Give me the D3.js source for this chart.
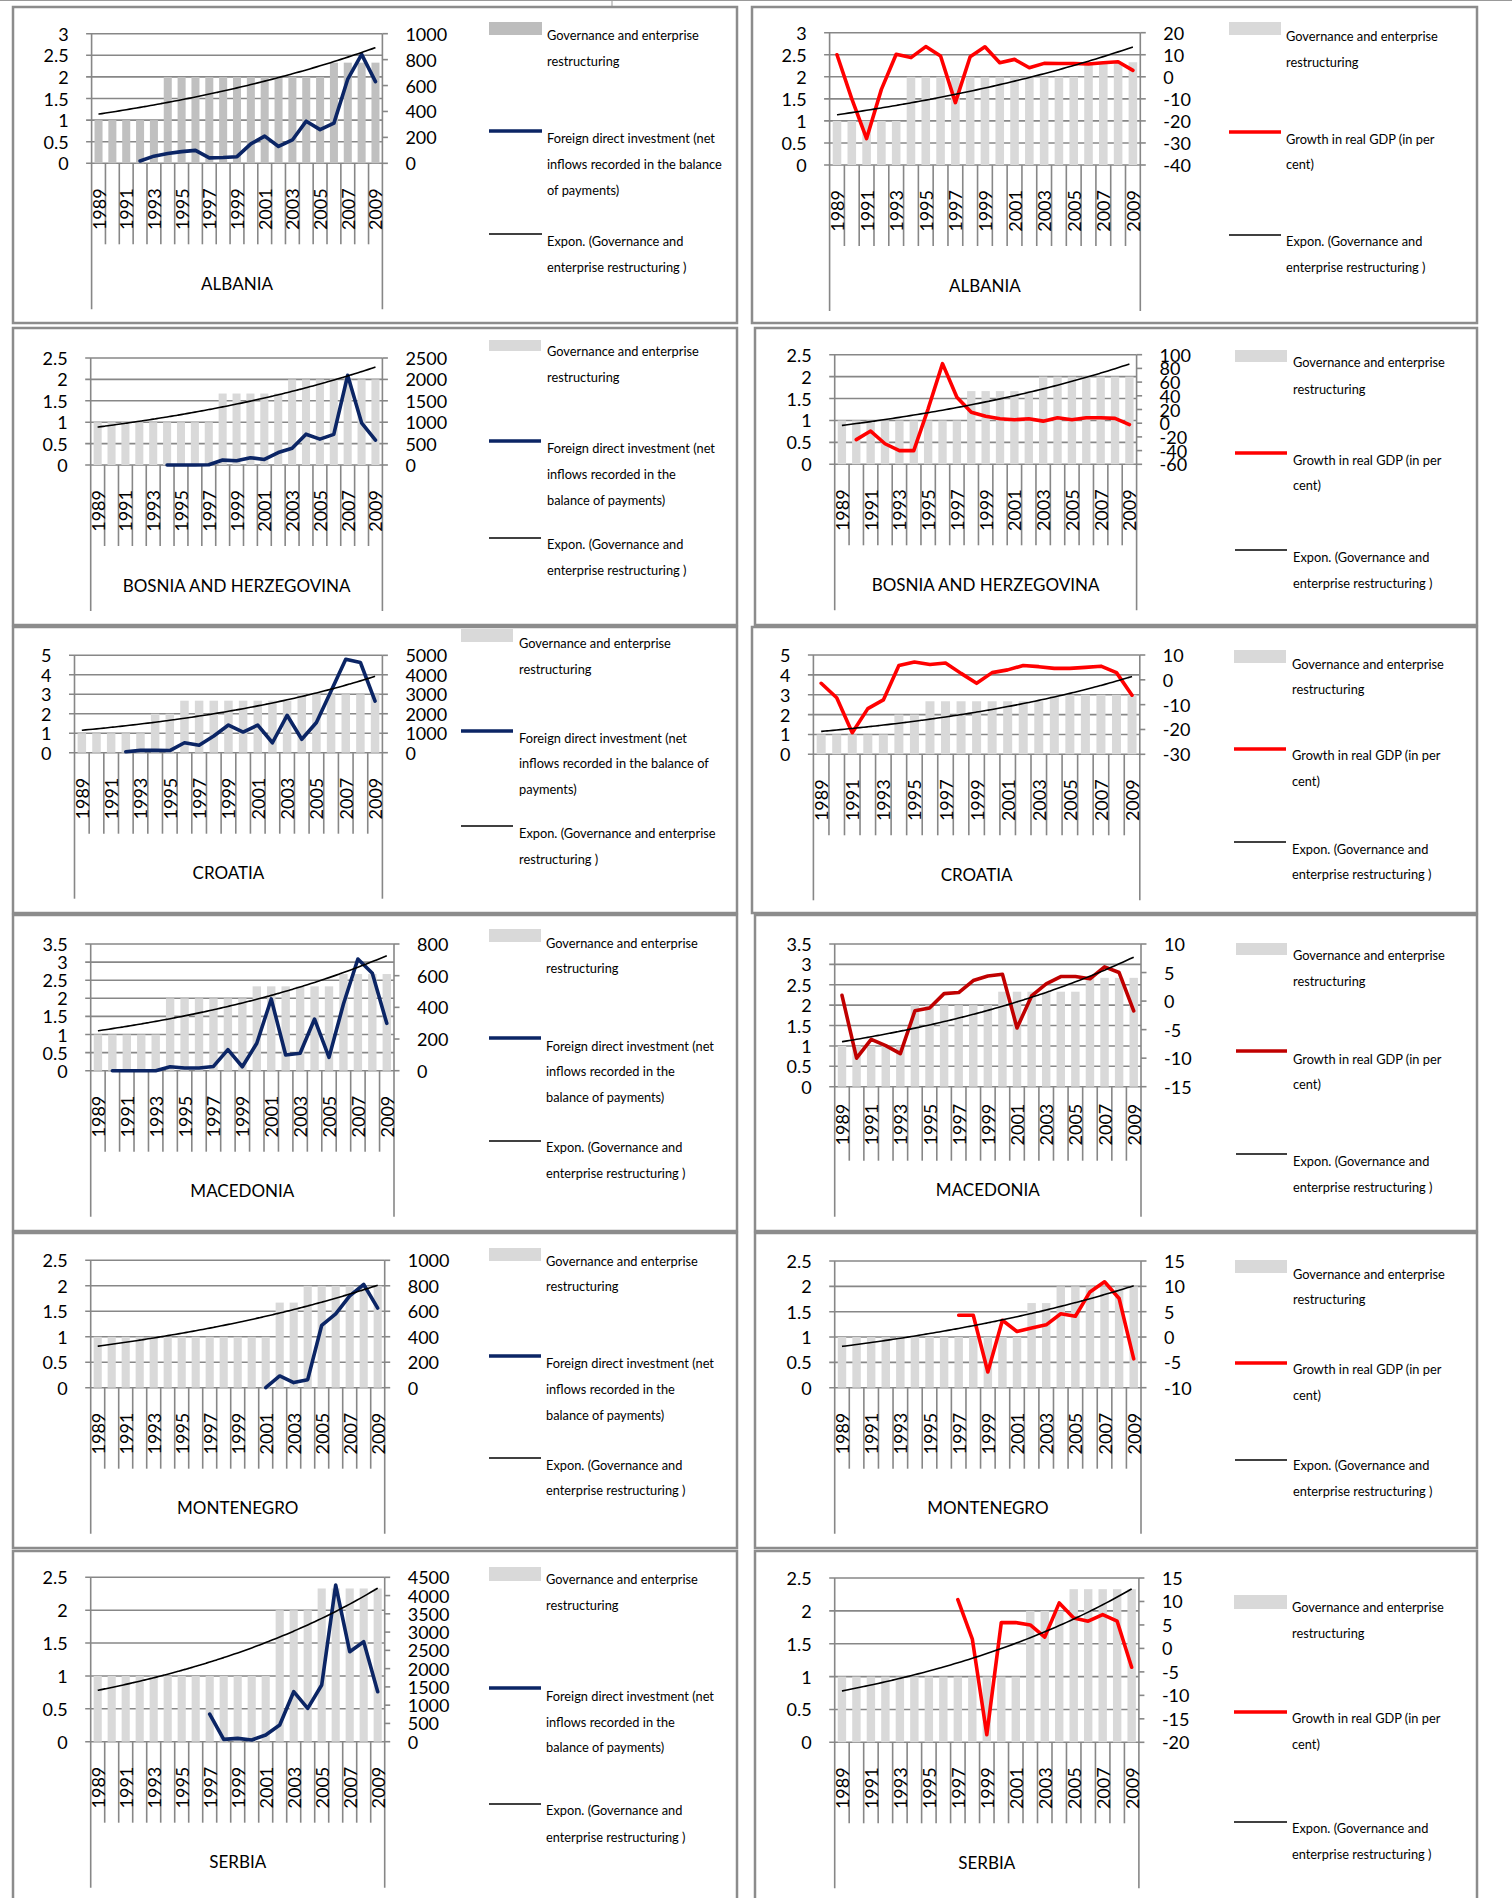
<!DOCTYPE html>
<html><head><meta charset="utf-8">
<script src="https://cdn.jsdelivr.net/npm/d3@7"></script>
<style>
body{margin:0;background:#fff}
svg{display:block}
text{font-family:Lato,"Noto Sans",sans-serif;fill:#000}
</style>
</head><body>
<svg id="chart" width="1512" height="1898"></svg>
<script>
// ---------- DATA ----------
const years = [1989,1990,1991,1992,1993,1994,1995,1996,1997,1998,1999,2000,2001,2002,2003,2004,2005,2006,2007,2008,2009];
const countries = ["ALBANIA","BOSNIA AND HERZEGOVINA","CROATIA","MACEDONIA","MONTENEGRO","SERBIA"];

// Governance and enterprise restructuring (EBRD index)
const govAlbania    = [1,1,1,1,1,2,2,2,2,2,2,2,2,2,2,2,2,2.33,2.33,2.33,2.33];
const govBosnia     = [1,1,1,1,1,1,1,1,1,1.67,1.67,1.67,1.67,1.67,2,2,2,2,2,2,2];
const govCroatia    = [1,1,1,1,1,2,2,2.67,2.67,2.67,2.67,2.67,2.67,2.67,2.67,3,3,3,3,3,3];
const govMacedonia  = [1,1,1,1,1,2,2,2,2,2,2,2.33,2.33,2.33,2.33,2.33,2.33,2.67,2.67,2.67,2.67];
const govMontenegro = [1,1,1,1,1,1,1,1,1,1,1,1,1,1.67,1.67,2,2,2,2,2,2];
const govSerbia     = [1,1,1,1,1,1,1,1,1,1,1,1,1,2,2,2,2.33,2.33,2.33,2.33,2.33];

// Foreign direct investment (net inflows, balance of payments)
const fdiAlbania    = [null,null,null,18,55,75,90,100,42,45,51,150,210,130,180,325,260,310,650,840,630];
const fdiBosnia     = [null,null,null,null,null,0,0,0,5,115,100,170,130,290,390,720,605,715,2095,985,580];
const fdiCroatia    = [null,null,null,50,120,120,110,510,380,860,1420,1060,1420,510,1920,690,1550,3170,4800,4630,2650];
const fdiMacedonia  = [null,0,0,0,0,25,17,17,27,133,25,173,453,99,110,326,84,421,705,615,299];
const fdiMontenegro = [null,null,null,null,null,null,null,null,null,null,null,null,0,92,40,63,490,580,720,810,625];
const fdiSerbia     = [null,null,null,null,null,null,null,null,757,64,91,46,183,456,1369,912,1551,4288,2464,2737,1369];

// Growth in real GDP (in per cent)
const gdpAlbania    = [10,-10,-28,-5.7,10.2,8.7,13.7,9.4,-11.7,9.1,13.6,6.4,7.9,4.1,6.1,6,6,5.8,6.4,6.8,2.9];
const gdpBosnia     = [null,-24,-11.5,-30,-40,-40,21,87,38,16,10,6.4,5,6.4,3,8,5,8,8,7,-2];
const gdpCroatia    = [-1.4,-7.2,-21.3,-11.6,-8.1,5.8,7.2,6.2,6.8,2.6,-1.4,2.9,4.0,5.8,5.3,4.6,4.6,5.0,5.5,2.9,-6.2];
const gdpMacedonia  = [1.0,-10,-6.7,-7.8,-9.2,-1.7,-1.2,1.3,1.5,3.6,4.4,4.7,-4.7,0.9,3.0,4.3,4.3,3.9,6.0,5.0,-1.7];
const gdpMontenegro = [null,null,null,null,null,null,null,null,4.3,4.3,-6.9,3.3,1.1,1.8,2.4,4.6,4.1,8.9,10.9,7.6,-4.3];
const gdpSerbia     = [null,null,null,null,null,null,null,null,10.4,2.0,-18.4,5.5,5.5,5.0,2.4,9.7,6.5,5.8,7.2,5.8,-4.0];

// Axis tick labels
const govTicks = [
  [0,0.5,1,1.5,2,2.5,3],
  [0,0.5,1,1.5,2,2.5],
  [0,1,2,3,4,5],
  [0,0.5,1,1.5,2,2.5,3,3.5],
  [0,0.5,1,1.5,2,2.5],
  [0,0.5,1,1.5,2,2.5]
];
const fdiTicks = [
  [0,200,400,600,800,1000],
  [0,500,1000,1500,2000,2500],
  [0,1000,2000,3000,4000,5000],
  [0,200,400,600,800],
  [0,200,400,600,800,1000],
  [0,500,1000,1500,2000,2500,3000,3500,4000,4500]
];
const gdpTicks = [
  [-40,-30,-20,-10,0,10,20],
  [-60,-40,-20,0,20,40,60,80,100],
  [-30,-20,-10,0,10],
  [-15,-10,-5,0,5,10],
  [-10,-5,0,5,10,15],
  [-20,-15,-10,-5,0,5,10,15]
];

// Legend texts
const legendGov = ["Governance and enterprise","restructuring"];
const legendFdi = [
  ["Foreign direct investment (net","inflows recorded in the balance","of payments)"],
  ["Foreign direct investment (net","inflows recorded in the","balance of payments)"],
  ["Foreign direct investment (net","inflows recorded in the balance of","payments)"],
  ["Foreign direct investment (net","inflows recorded in the","balance of payments)"],
  ["Foreign direct investment (net","inflows recorded in the","balance of payments)"],
  ["Foreign direct investment (net","inflows recorded in the","balance of payments)"]
];
const legendGdp = ["Growth in real GDP (in per","cent)"];
const legendTrend = [
  ["Expon. (Governance and","enterprise restructuring )"],
  ["Expon. (Governance and","enterprise restructuring )"],
  ["Expon. (Governance and enterprise","restructuring )"],
  ["Expon. (Governance and","enterprise restructuring )"],
  ["Expon. (Governance and","enterprise restructuring )"],
  ["Expon. (Governance and","enterprise restructuring )"]
];
const legendTrendR = ["Expon. (Governance and","enterprise restructuring )"];

const govAll = [govAlbania,govBosnia,govCroatia,govMacedonia,govMontenegro,govSerbia];
const fdiAll = [fdiAlbania,fdiBosnia,fdiCroatia,fdiMacedonia,fdiMontenegro,fdiSerbia];
const gdpAll = [gdpAlbania,gdpBosnia,gdpCroatia,gdpMacedonia,gdpMontenegro,gdpSerbia];

// ---------- LAYOUT (positions only) ----------
const rowsBox = [[7,323],[328,625],[627,913],[915,1231],[1233,1548],[1551,1910]];
const STD = {lab:25, sep:81, outer:146, title:120};
const layoutL = [
  {px0:91.6,px1:382.4,pt:33.7,pb:163.3, sw:[489,542,22,35], tx:547, t1:[35,61], l2:131, t2:[138,164,190], l3:234, t3:[241,267]},
  {px0:90.7,px1:382.4,pt:358,pb:465, sw:[489,541,340,351], tx:547, t1:[351,377], l2:441, t2:[448,474,500], l3:538, t3:[544,570]},
  {px0:74.5,px1:382.4,pt:655.3,pb:752.7, sw:[461,513,629,642], tx:519, t1:[643,669], l2:731, t2:[738,763,789], l3:826, t3:[833,859]},
  {px0:90.7,px1:394,pt:944,pb:1070.7, sw:[489,541,929,942], tx:546, t1:[943,968], l2:1038, t2:[1046,1071,1097], l3:1141, t3:[1147,1173]},
  {px0:90.7,px1:384.7,pt:1260.3,pb:1387.7, sw:[489,541,1248,1261], tx:546, t1:[1261,1286], l2:1356, t2:[1363,1389,1415], l3:1458, t3:[1465,1490]},
  {px0:90.7,px1:384.7,pt:1577.3,pb:1741.7, sw:[489,541,1567,1581], tx:546, t1:[1579,1605], l2:1688, t2:[1696,1722,1747], l3:1804, t3:[1810,1837]}
];
const layoutR = [
  {bx:752, px0:829.6,px1:1140.3,pt:32.7,pb:165, sw:[1229,1281,22,35], tx:1286, t1:[36,62], l2:132, t2:[139,164], l3:235, t3:[241,267]},
  {bx:755, px0:834.7,px1:1136.6,pt:354.7,pb:464.3, sw:[1235,1287,350,362], tx:1293, t1:[362,389], l2:453, t2:[460,485], l3:550, t3:[557,583]},
  {bx:752, px0:813.4,px1:1139.8,pt:655,pb:754.3, sw:[1234,1286,650,663], tx:1292, t1:[664,689], l2:749, t2:[755,781], l3:842, t3:[849,874]},
  {bx:755, px0:834.7,px1:1141,pt:944,pb:1086.7, sw:[1236,1287,943,955], tx:1293, t1:[955,981], l2:1051, t2:[1059,1084], l3:1154, t3:[1161,1187],
   off:{lab:17, sep:74, outer:130, title:103}},
  {bx:755, px0:834.7,px1:1141,pt:1261,pb:1387.7, sw:[1235,1287,1260,1273], tx:1293, t1:[1274,1299], l2:1363, t2:[1369,1395], l3:1460, t3:[1465,1491]},
  {bx:755, px0:834.7,px1:1138.9,pt:1578,pb:1742.3, sw:[1234,1287,1595,1609], tx:1292, t1:[1607,1633], l2:1712, t2:[1718,1744], l3:1822, t3:[1828,1854]}
];

const GRID = "#878787";
const NAVY = "#0B2565";

const svg = d3.select("#chart");

// top page edge
svg.append("line").attr("x1",0).attr("x2",1512).attr("y1",0.5).attr("y2",0.5).attr("stroke","#999").attr("stroke-width",1);
svg.append("line").attr("x1",612).attr("x2",612).attr("y1",0).attr("y2",6).attr("stroke","#999").attr("stroke-width",1);

function expFit(vals){
  const xs = vals.map((v,i)=>i), ly = vals.map(v=>Math.log(v));
  const mx = d3.mean(xs), my = d3.mean(ly);
  let sxy=0, sxx=0;
  xs.forEach((x,i)=>{sxy+=(x-mx)*(ly[i]-my); sxx+=(x-mx)*(x-mx);});
  const b = sxy/sxx, a = my-b*mx;
  return i=>Math.exp(a+b*i);
}

function drawPanel(ci, side){
  const L = side==="L" ? layoutL[ci] : layoutR[ci];
  const O = L.off || STD;
  const box = rowsBox[ci];
  const bx0 = side==="L" ? 13 : L.bx, bx1 = side==="L" ? 737 : 1477;
  const g = svg.append("g");
  g.append("rect").attr("x",bx0).attr("y",box[0]).attr("width",bx1-bx0).attr("height",box[1]-box[0])
    .attr("fill","none").attr("stroke","#8c8c8c").attr("stroke-width",2.5);

  const gov = govAll[ci];
  const series = side==="L" ? fdiAll[ci] : gdpAll[ci];
  const rTicks = side==="L" ? fdiTicks[ci] : gdpTicks[ci];
  const lTicks = govTicks[ci];

  const x = d3.scaleBand().domain(years).range([L.px0, L.px1]).paddingInner(0.42).paddingOuter(0.21);
  const step = (L.px1-L.px0)/years.length;
  const cx = y => L.px0 + (years.indexOf(y)+0.5)*step;
  const yL = d3.scaleLinear().domain([d3.min(lTicks), d3.max(lTicks)]).range([L.pb, L.pt]);
  const yR = d3.scaleLinear().domain([d3.min(rTicks), d3.max(rTicks)]).range([L.pb, L.pt]);

  // gridlines (behind bars)
  g.selectAll(".grid").data(lTicks).enter().append("line")
    .attr("x1",L.px0-5.5).attr("x2",L.px1).attr("y1",d=>yL(d)).attr("y2",d=>yL(d))
    .attr("stroke",GRID).attr("stroke-width",1.6);

  // bars
  const barColor = (ci===0 && side==="L") ? "#C0C0C0" : "#D9D9D9";
  g.selectAll(".bar").data(years.map((yr,i)=>({yr, v:gov[i]}))).enter().append("rect")
    .attr("x",d=>x(d.yr)).attr("width",x.bandwidth())
    .attr("y",d=>yL(d.v)).attr("height",d=>yL(0)-yL(d.v)).attr("fill",barColor);

  // left axis labels
  g.selectAll(".ll").data(lTicks).enter().append("text")
    .attr("x",L.px0-23).attr("y",d=>yL(d)).attr("text-anchor","end").attr("dominant-baseline","central")
    .attr("font-size",18).text(d=>d);
  // right axis ticks and labels
  g.selectAll(".rt").data(rTicks).enter().append("line")
    .attr("x1",L.px1).attr("x2",L.px1+5.5).attr("y1",d=>yR(d)).attr("y2",d=>yR(d))
    .attr("stroke",GRID).attr("stroke-width",1.6);
  g.selectAll(".rl").data(rTicks).enter().append("text")
    .attr("x",L.px1+23).attr("y",d=>yR(d)).attr("text-anchor","start").attr("dominant-baseline","central")
    .attr("font-size",18).text(d=>d);

  // axis lines and category separators (multi-level axis)
  [L.px0, L.px1].forEach(xx=>{
    g.append("line").attr("x1",xx).attr("x2",xx).attr("y1",L.pt).attr("y2",L.pb+O.outer)
      .attr("stroke",GRID).attr("stroke-width",1.6);
  });
  g.selectAll(".sep").data(d3.range(1,years.length)).enter().append("line")
    .attr("x1",i=>L.px0+i*step).attr("x2",i=>L.px0+i*step)
    .attr("y1",L.pb).attr("y2",L.pb+O.sep).attr("stroke",GRID).attr("stroke-width",1.6);

  // year labels (every other)
  g.selectAll(".yl").data(years.filter((d,i)=>i%2===0)).enter().append("text")
    .attr("transform",d=>`translate(${cx(d)},${L.pb+O.lab}) rotate(-90)`)
    .attr("text-anchor","end").attr("dominant-baseline","central").attr("font-size",18).text(d=>d);

  // country name
  g.append("text").attr("x",(L.px0+L.px1)/2).attr("y",L.pb+O.title).attr("text-anchor","middle")
    .attr("dominant-baseline","central").attr("font-size",17).text(countries[ci]);

  // series line
  const lineColor = side==="L" ? NAVY : (ci===3 ? "#C00000" : "#FF0000");
  const line = d3.line().defined(d=>d.v!==null).x(d=>cx(d.yr)).y(d=>yR(d.v));
  g.append("path").datum(years.map((yr,i)=>({yr, v:series[i]})))
    .attr("d",line).attr("fill","none").attr("stroke",lineColor).attr("stroke-width",3.6)
    .attr("stroke-linejoin","round").attr("stroke-linecap","round");

  // exponential trend line of governance index
  const f = expFit(gov);
  const ix = d3.scaleLinear().domain([0,years.length-1]).range([cx(years[0]), cx(years[years.length-1])]);
  const tPts = d3.range(0, years.length-1+0.001, 0.25).map(i=>[ix(i), yL(f(i))]);
  g.append("path").attr("d",d3.line().curve(d3.curveBasis)(tPts)).attr("fill","none")
    .attr("stroke","#000").attr("stroke-width",1.6);

  // legend
  const s = L.sw;
  g.append("rect").attr("x",s[0]).attr("y",s[2]).attr("width",s[1]-s[0]).attr("height",s[3]-s[2])
    .attr("fill",(ci===0 && side==="L") ? "#BDBDBD" : "#D9D9D9");
  g.append("line").attr("x1",s[0]).attr("x2",s[1]).attr("y1",L.l2).attr("y2",L.l2)
    .attr("stroke",lineColor).attr("stroke-width",3.6);
  g.append("line").attr("x1",s[0]).attr("x2",s[1]).attr("y1",L.l3).attr("y2",L.l3)
    .attr("stroke","#000").attr("stroke-width",1.6);
  const texts = [
    [legendGov, L.t1],
    [side==="L" ? legendFdi[ci] : legendGdp, L.t2],
    [side==="L" ? legendTrend[ci] : legendTrendR, L.t3]
  ];
  texts.forEach(([lines, ys])=>{
    lines.forEach((t,k)=>{
      g.append("text").attr("x",L.tx).attr("y",ys[k]).attr("dominant-baseline","central")
        .attr("font-size",12.8).text(t);
    });
  });
}

countries.forEach((c,ci)=>{ drawPanel(ci,"L"); drawPanel(ci,"R"); });
</script>
</body></html>
